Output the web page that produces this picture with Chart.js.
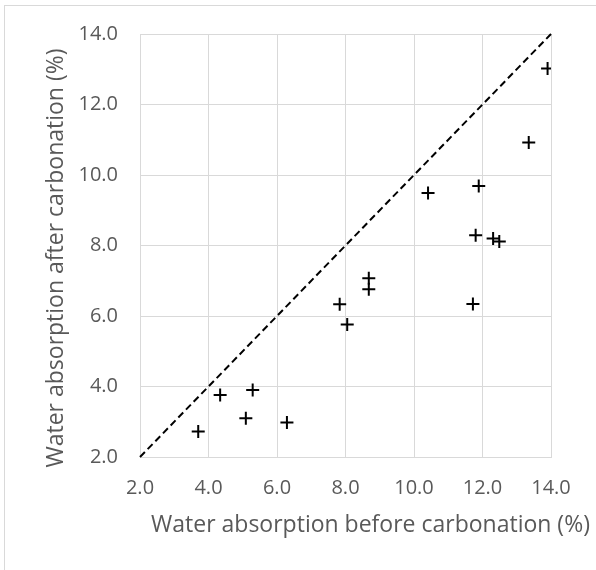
<!DOCTYPE html>
<html>
<head>
<meta charset="utf-8">
<script src="https://cdn.jsdelivr.net/npm/chart.js@4"></script>
<style>
  html, body { margin: 0; padding: 0; background: #ffffff; }
  #wrap { position: relative; width: 596px; height: 570px; overflow: hidden; background: #ffffff; }
  #frame { position: absolute; left: 4px; top: 5px; width: 800px; height: 800px; border: 1px solid #d9d9d9; box-sizing: border-box; }
  #c { position: absolute; left: 0; top: 0; }
</style>
</head>
<body>
<div id="wrap">
  <div id="frame"></div>
  <canvas id="c" width="596" height="570"></canvas>
</div>
<script>
// ---- data ----
const waterBefore = [3.70, 4.34, 5.29, 5.09, 6.29, 7.83, 8.05, 8.68, 8.68, 10.41, 11.89, 11.80, 12.31, 12.49, 11.72, 13.35, 13.90];
const waterAfter  = [2.72, 3.76, 3.90, 3.10, 2.98, 6.33, 5.76, 7.07, 6.76, 9.49, 9.69, 8.29, 8.20, 8.11, 6.34, 10.92, 13.02];
const equalityX = [2, 14];
const equalityY = [2, 14];
const axisMin = 2;
const axisMax = 14;
const axisStep = 2;
const xTitle = 'Water absorption before carbonation (%)';
const yTitle = 'Water absorption after carbonation (%)';

const FONT = '"Open Sans", "Liberation Sans", sans-serif';
const TEXT_COLOR = '#595959';
const GRID_COLOR = '#d9d9d9';

const scatterPts = waterBefore.map((x, i) => ({ x: x, y: waterAfter[i] }));
const linePts = equalityX.map((x, i) => ({ x: x, y: equalityY[i] }));

const titlePlugin = {
  id: 'axisTitles',
  afterDraw(chart) {
    const ctx = chart.ctx;
    ctx.save();
    ctx.fillStyle = TEXT_COLOR;
    ctx.font = '23px ' + FONT;
    ctx.textAlign = 'center';
    ctx.textBaseline = 'alphabetic';
    ctx.fillText(xTitle, 370.5, 532);
    ctx.translate(63, 258);
    ctx.rotate(-Math.PI / 2);
    ctx.fillText(yTitle, 0, 0);
    ctx.restore();
  }
};

new Chart(document.getElementById('c'), {
  type: 'scatter',
  data: {
    datasets: [
      {
        type: 'line',
        data: linePts,
        borderColor: '#000000',
        borderWidth: 2,
        borderDash: [7, 4],
        pointRadius: 0,
        fill: false,
        clip: false,
        order: 2
      },
      {
        type: 'scatter',
        data: scatterPts,
        pointStyle: 'cross',
        pointRadius: 6.5,
        pointBorderWidth: 2,
        borderColor: '#000000',
        backgroundColor: '#000000',
        order: 1
      }
    ]
  },
  options: {
    responsive: false,
    animation: false,
    layout: { padding: { left: 0, top: 34, right: 45, bottom: 0 } },
    plugins: { legend: { display: false }, tooltip: { enabled: false } },
    scales: {
      x: {
        type: 'linear',
        min: axisMin, max: axisMax,
        afterFit(scale) { scale.height = 113; },
        ticks: {
          stepSize: axisStep,
          padding: 19,
          color: TEXT_COLOR,
          font: { family: FONT, size: 20 },
          callback: (v) => Number(v).toFixed(1)
        },
        grid: { color: GRID_COLOR, lineWidth: 1, drawTicks: false },
        border: { color: GRID_COLOR, width: 1 }
      },
      y: {
        type: 'linear',
        min: axisMin, max: axisMax,
        afterFit(scale) { scale.width = 140; },
        ticks: {
          stepSize: axisStep,
          padding: 22,
          color: TEXT_COLOR,
          font: { family: FONT, size: 20 },
          callback: (v) => Number(v).toFixed(1)
        },
        grid: { color: GRID_COLOR, lineWidth: 1, drawTicks: false },
        border: { color: GRID_COLOR, width: 1 }
      }
    }
  },
  plugins: [titlePlugin]
});
</script>
</body>
</html>
